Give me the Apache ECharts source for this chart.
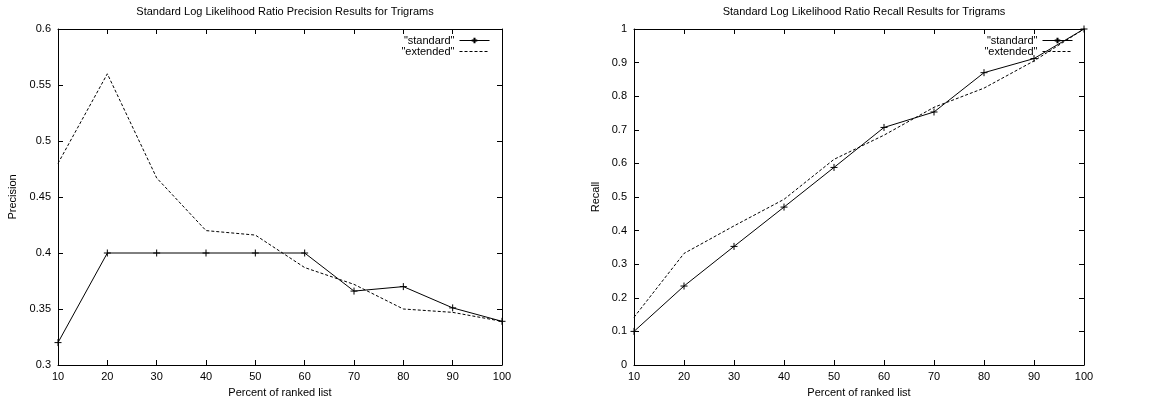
<!DOCTYPE html>
<html>
<head>
<meta charset="utf-8">
<script src="https://cdn.jsdelivr.net/npm/echarts@6/dist/echarts.min.js"></script>
<style>
html,body{margin:0;padding:0;background:#fff;}
#chart{width:1157px;height:406px;}
</style>
</head>
<body>
<div id="chart"></div>
<script>
// Data
const percentList = [10, 20, 30, 40, 50, 60, 70, 80, 90, 100];
const precisionStandard = [0.32, 0.40, 0.40, 0.40, 0.40, 0.40, 0.366, 0.370, 0.351, 0.339];
const precisionExtended = [0.48, 0.56, 0.467, 0.42, 0.416, 0.387, 0.372, 0.350, 0.347, 0.339];
const recallStandard = [0.10, 0.235, 0.353, 0.47, 0.588, 0.707, 0.753, 0.870, 0.912, 1.0];
const recallExtended = [0.142, 0.332, 0.414, 0.493, 0.612, 0.684, 0.767, 0.824, 0.905, 1.0];
const titleLeft = 'Standard Log Likelihood Ratio Precision Results for Trigrams';
const titleRight = 'Standard Log Likelihood Ratio Recall Results for Trigrams';
const xName = 'Percent of ranked list';
const seriesNames = ['"standard"', '"extended"'];

const pairs = (ys) => percentList.map((x, i) => [x, ys[i]]);
const FONT = 'Liberation Sans, Arial, Helvetica, sans-serif';
const plus = 'path://M0,5L10,5M5,0L5,10';

function xAxes(grid) {
  const base = {
    type: 'value', gridIndex: grid, min: 10, max: 100, interval: 10,
    axisLine: {show: true, onZero: false, lineStyle: {color: '#000', width: 1}},
    axisTick: {show: true, inside: true, length: 5, lineStyle: {color: '#000'}},
    splitLine: {show: false}
  };
  return [
    Object.assign({}, base, {
      position: 'bottom',
      axisLabel: {color: '#000', fontSize: 11, fontFamily: FONT, margin: 6},
      name: xName, nameLocation: 'middle', nameGap: 22,
      nameTextStyle: {color: '#000', fontSize: 11, fontFamily: FONT}
    }),
    Object.assign({}, base, {position: 'top', axisLabel: {show: false}})
  ];
}
function yAxes(grid, min, max, interval, name, gap) {
  const base = {
    type: 'value', gridIndex: grid, min: min, max: max, interval: interval,
    axisLine: {show: true, onZero: false, lineStyle: {color: '#000', width: 1}},
    axisTick: {show: true, inside: true, length: 5, lineStyle: {color: '#000'}},
    splitLine: {show: false}
  };
  return [
    Object.assign({}, base, {
      position: 'left',
      axisLabel: {color: '#000', fontSize: 11, fontFamily: FONT, margin: 7},
      name: name, nameLocation: 'middle', nameGap: gap, nameRotate: 90,
      nameTextStyle: {color: '#000', fontSize: 11, fontFamily: FONT}
    }),
    Object.assign({}, base, {position: 'right', axisLabel: {show: false}})
  ];
}
function stdSeries(grid, ys) {
  return {
    name: seriesNames[0], type: 'line', xAxisIndex: grid * 2, yAxisIndex: grid * 2,
    data: pairs(ys), symbol: plus, symbolSize: 7, showSymbol: true,
    itemStyle: {color: 'rgba(0,0,0,0)', borderColor: '#000', borderWidth: 1},
    lineStyle: {color: '#000', width: 1},
    emphasis: {disabled: true}, animation: false, z: 3
  };
}
function extSeries(grid, ys) {
  return {
    name: seriesNames[1], type: 'line', xAxisIndex: grid * 2, yAxisIndex: grid * 2,
    data: pairs(ys), symbol: 'circle', symbolSize: 1, showSymbol: false,
    itemStyle: {color: 'rgba(0,0,0,0)', borderWidth: 0},
    lineStyle: {color: '#000', width: 1, type: [3, 2]},
    emphasis: {disabled: true}, animation: false, z: 2
  };
}
function legend(right) {
  return {
    right: right, top: 30, orient: 'vertical', align: 'right',
    itemWidth: 30, itemHeight: 7, itemGap: 0,
    lineStyle: {width: 1},
    textStyle: {color: '#000', fontSize: 11, fontFamily: FONT, lineHeight: 11},
    data: seriesNames, selectedMode: false
  };
}

const chart = echarts.init(document.getElementById('chart'), null, {renderer: 'canvas'});
chart.setOption({
  backgroundColor: '#fff',
  animation: false,
  title: [
    {text: titleLeft, left: 280, top: 1, textAlign: 'center',
     textStyle: {fontSize: 11, fontWeight: 'normal', color: '#000', fontFamily: FONT}},
    {text: titleRight, left: 859, top: 1, textAlign: 'center',
     textStyle: {fontSize: 11, fontWeight: 'normal', color: '#000', fontFamily: FONT}}
  ],
  grid: [
    {left: 58, right: 655, top: 29, bottom: 41},
    {left: 634, right: 73, top: 29, bottom: 41}
  ],
  legend: [legend(662), legend(79)],
  xAxis: xAxes(0).concat(xAxes(1)),
  yAxis: yAxes(0, 0.3, 0.6, 0.05, 'Precision', 40).concat(yAxes(1, 0, 1, 0.1, 'Recall', 33)),
  series: [
    stdSeries(0, precisionStandard), extSeries(0, precisionExtended),
    stdSeries(1, recallStandard), extSeries(1, recallExtended)
  ]
});
</script>
</body>
</html>
